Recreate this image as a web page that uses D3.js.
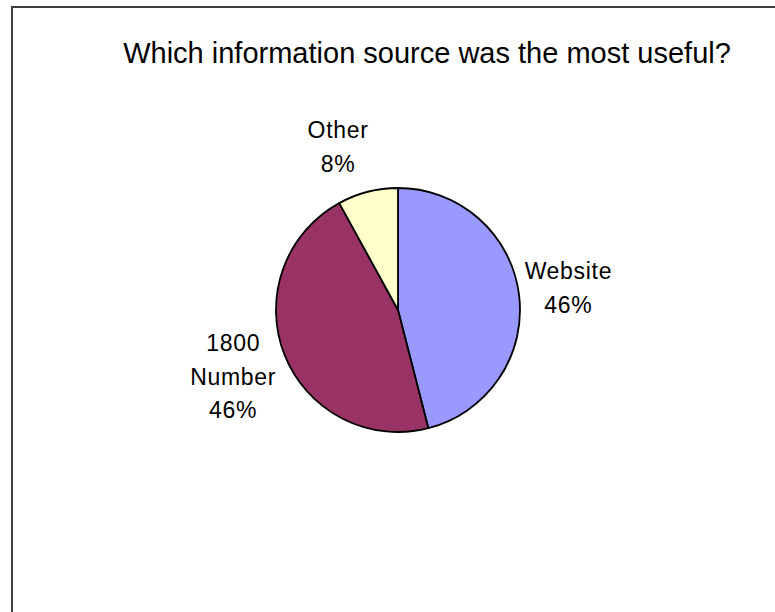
<!DOCTYPE html>
<html><head><meta charset="utf-8">
<script src="https://cdn.jsdelivr.net/npm/d3@7"></script>
<style>body{margin:0;background:#fff;} svg{display:block;}</style>
</head><body>
<svg id="c" width="775" height="612"></svg>
<script>
const title = "Which information source was the most useful?";
const categories = ["Website", "1800 Number", "Other"];
const labelLines = [["Website"], ["1800", "Number"], ["Other"]];
const values = [46, 46, 8];
const colors = ["#9999FF", "#993366", "#FFFFCC"];

const FONT = "Liberation Sans, Arial, Helvetica, sans-serif";
const svg = d3.select("#c");
svg.append("rect").attr("x", 12).attr("y", 7).attr("width", 800).attr("height", 700)
  .attr("fill", "#fff").attr("stroke", "#404040").attr("stroke-width", 2);

svg.append("text").attr("x", 427).attr("y", 63).attr("text-anchor", "middle")
  .attr("font-family", FONT).attr("font-size", 29)
  .attr("fill", "#000").text(title);

const cx = 398, cy = 310, r = 122;
const pie = d3.pie().sort(null).value(d => d)(values);
const arc = d3.arc().innerRadius(0).outerRadius(r);
const g = svg.append("g").attr("transform", `translate(${cx},${cy})`);
g.selectAll("path").data(pie).join("path")
  .attr("d", arc).attr("fill", (d, i) => colors[i])
  .attr("stroke", "#000").attr("stroke-width", 1.8).attr("stroke-linejoin", "round");

const fs = 23, lh = 33.5, ls = 0.7, gap = 8;
const nudge = [[-2, -2], [-4, 0], [-20, -5]];
pie.forEach((d, i) => {
  const a = (d.startAngle + d.endAngle) / 2;
  const dx = Math.sin(a), dy = -Math.cos(a);
  const lines = labelLines[i].concat([Math.round(values[i] / d3.sum(values) * 100) + "%"]);
  const t = g.append("text").attr("text-anchor", "middle")
    .attr("font-family", FONT).attr("font-size", fs).attr("letter-spacing", ls).attr("fill", "#000");
  lines.forEach((s, j) => t.append("tspan").attr("x", 0).attr("y", lh * j).text(s));
  const bb = t.node().getBBox();
  const w = bb.width, h = lh * lines.length;
  const lx = dx * (r + gap) + dx * w / 2 + nudge[i][0];
  const ly = dy * (r + gap) + dy * h / 2 + nudge[i][1];
  // place block so its centre is at (lx, ly)
  const top = ly - h / 2;
  t.selectAll("tspan").attr("x", lx).attr("y", (s, j) => top + lh * j + lh * 0.5 + fs * 0.36);
});
</script>
</body></html>
